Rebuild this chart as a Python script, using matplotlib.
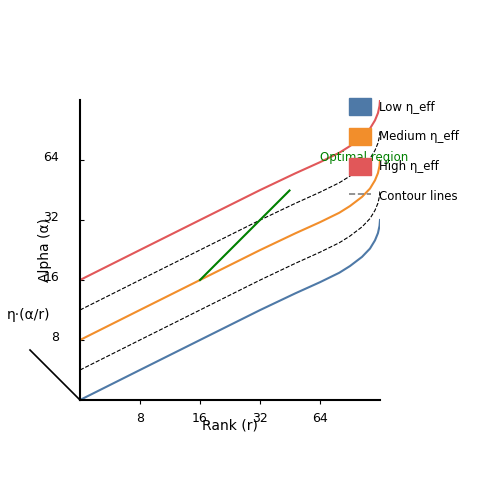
import matplotlib
matplotlib.use("Agg")
import matplotlib.pyplot as plt
from matplotlib.patches import Patch
from matplotlib.lines import Line2D
from matplotlib.transforms import ScaledTranslation
import numpy as np

ranks = [4, 8, 16, 32, 48, 64, 80, 90.5, 104, 114, 120.8, 125, 127.3, 128]
low_alpha = [4, 5.66, 8, 11.3, 13.7, 15.6, 17.4, 18.8, 20.9, 23.0, 25.3, 27.5, 29.9, 32]
med_factor = 2
high_factor = 4
contour_factors = [1.414, 2.828]
opt_r = [16, 45]
opt_a = [16, 45]
xticks = [8, 16, 32, 64]
yticks = [8, 16, 32, 64]

fig = plt.figure(figsize=(5, 5), dpi=100)
ax = fig.add_axes([0.16, 0.2, 0.6, 0.6])
ax.set_xscale('log', base=2)
ax.set_yscale('log', base=2)
ax.set_xlim(4, 128)
ax.set_ylim(4, 128)

la = np.array(low_alpha)
ax.plot(ranks, la, color='#4e79a7', lw=1.5)
ax.plot(ranks, la * med_factor, color='#f28e2b', lw=1.5)
ax.plot(ranks, la * high_factor, color='#e15759', lw=1.5)
for f in contour_factors:
    ax.plot(ranks, la * f, 'k--', lw=0.8)
ax.plot(opt_r, opt_a, color='green', lw=1.5)
ax.text(64, 66, 'Optimal region', color='green', fontsize=8.5, ha='left', va='center')

ax.set_xticks(xticks)
ax.set_xticklabels([str(t) for t in xticks])
ax.set_yticks(yticks)
ax.set_yticklabels([str(t) for t in yticks])
ax.minorticks_off()
ax.tick_params(labelsize=9, length=3, width=0.8)
ax.tick_params(axis='x', pad=6)
ax.tick_params(axis='y', direction='in', pad=15)
off = ScaledTranslation(0, 4/100, fig.dpi_scale_trans)
for lab in ax.get_yticklabels():
    lab.set_transform(lab.get_transform() + off)
ax.spines['top'].set_visible(False)
ax.spines['right'].set_visible(False)
ax.spines['left'].set_linewidth(1.5)
ax.spines['bottom'].set_linewidth(1.5)
ax.set_xlabel('Rank (r)', fontsize=10, labelpad=-5)
ax.set_ylabel('Alpha (α)', fontsize=10, labelpad=-6)

fig.add_artist(Line2D([30/500, 80/500], [1-350/500, 1-400/500], color='k', lw=1.2))
fig.text(28/500, 1-315/500, 'η·(α/r)', fontsize=10, ha='center', va='center')

handles = [Patch(color='#4e79a7'), Patch(color='#f28e2b'), Patch(color='#e15759'),
           Line2D([0], [0], color='gray', ls='--', lw=1.2)]
labels = ['Low η_eff', 'Medium η_eff', 'High η_eff', 'Contour lines']
fig.legend(handles, labels, loc='upper left', bbox_to_anchor=(349/500, 1-98/500),
           frameon=False, fontsize=8.5, handlelength=1.9, handleheight=1.9,
           labelspacing=1.05, handletextpad=0.6, borderaxespad=0, borderpad=0)

fig.savefig('out.png', dpi=100)
